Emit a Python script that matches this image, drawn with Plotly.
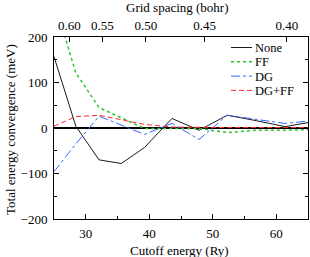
import math
import plotly.graph_objects as go

# Data
cutoff_ry = [25.0, 28.44, 32.09, 35.6, 39.24, 43.58, 47.85, 52.28, 56.9, 61.4, 66.3]
none_mev = [157, 4, -70, -78, -43, 21, -5, 28, 16, 3, 15]
ff_mev = [280, 121, 45, 22, -1, -1, -1, -10, -5, -5, -3]
dg_mev = [-96, -35, 26, 6, -14, 10, -25, 28, 19, 10, 17]
dgff_mev = [4, 25, 28, 18, 8, 2, 1, 1, 1, 1, 1]

grid_spacing_labels = ["0.60", "0.55", "0.50", "0.45", "0.40"]
grid_spacing_vals = [0.60, 0.55, 0.50, 0.45, 0.40]
grid_spacing_pos = [(math.pi / h) ** 2 for h in grid_spacing_vals]

series_names = ["None", "FF", "DG", "DG+FF"]
series_vals = [none_mev, ff_mev, dg_mev, dgff_mev]
colors = ["#1a1a1a", "#2ec42e", "#3366ff", "#ff2a2a"]
dashes = ["solid", "dot", "dashdot", "5px,3px"]
widths = [1.0, 1.5, 1.0, 1.0]

FONT = "Liberation Serif, Times New Roman, Times, serif"
L, R, T, B = 54, 2, 37, 38
W, H = 310, 257
PW, PH = W - L - R, H - T - B

def px2paper_x(px):
    return (px - L) / PW

def px2paper_y(py):
    return (H - B - py) / PH

fig = go.Figure()
for name, vals, c, d, w in zip(series_names, series_vals, colors, dashes, widths):
    fig.add_trace(go.Scatter(x=cutoff_ry, y=vals, mode="lines", name=name,
                             line=dict(color=c, dash=d, width=w), showlegend=False))

# invisible trace to hold the top axis
fig.add_trace(go.Scatter(x=grid_spacing_pos, y=[0] * len(grid_spacing_pos), xaxis="x2",
                         mode="markers", marker=dict(opacity=0), showlegend=False,
                         hoverinfo="skip"))

# manual legend
rows_y = [47.5, 61.8, 76.1, 90.4]
for name, c, d, w, ry in zip(series_names, colors, dashes, widths, rows_y):
    fig.add_shape(type="line", xref="paper", yref="paper",
                  x0=px2paper_x(231), x1=px2paper_x(252),
                  y0=px2paper_y(ry), y1=px2paper_y(ry),
                  line=dict(color=c, dash=d, width=w))
    fig.add_annotation(text=name, xref="paper", yref="paper",
                       x=px2paper_x(254), y=px2paper_y(ry), xanchor="left", yanchor="middle",
                       height=13, valign="middle", borderpad=0,
                       showarrow=False, font=dict(family=FONT, size=12.5, color="black"))

# titles
fig.add_annotation(text="Grid spacing (bohr)", xref="paper", yref="paper",
                   x=px2paper_x(177), y=px2paper_y(8), xanchor="center", yanchor="middle",
                   showarrow=False, font=dict(family=FONT, size=13, color="black"))
fig.add_annotation(text="Cutoff energy (Ry)", xref="paper", yref="paper",
                   x=px2paper_x(179), y=px2paper_y(250), xanchor="center", yanchor="middle",
                   showarrow=False, font=dict(family=FONT, size=13, color="black"))
fig.add_annotation(text="Total energy convergence (meV)", xref="paper", yref="paper",
                   x=px2paper_x(10), y=px2paper_y(130), xanchor="center", yanchor="middle",
                   textangle=-90,
                   showarrow=False, font=dict(family=FONT, size=13, color="black"))

fig.update_layout(
    width=W, height=H,
    margin=dict(l=L, r=R, t=T, b=B, pad=0),
    paper_bgcolor="white", plot_bgcolor="white",
    font=dict(family=FONT, size=13, color="black"),
    xaxis=dict(range=[25, 65], tickvals=[30, 40, 50, 60], ticks="inside", ticklen=5,
               tickwidth=1, tickcolor="black",
               minor=dict(tickvals=[35, 45, 55], ticks="inside", ticklen=3, tickcolor="black"),
               showline=True, linecolor="black", linewidth=1, mirror=True,
               showgrid=False, zeroline=False, ticklabelstandoff=2),
    xaxis2=dict(range=[25, 65], overlaying="x", side="top", anchor="y",
                tickvals=grid_spacing_pos, ticktext=grid_spacing_labels,
                ticks="inside", ticklen=5, tickcolor="black",
                showline=False, showgrid=False, zeroline=False, ticklabelstandoff=3),
    yaxis=dict(range=[-200, 200], tickvals=[-200, -100, 0, 100, 200], ticks="inside",
               ticklen=5, tickcolor="black",
               minor=dict(tickvals=[-150, -50, 50, 150], ticks="inside", ticklen=3,
                          tickcolor="black"),
               showline=True, linecolor="black", linewidth=1, mirror="ticks",
               showgrid=False, zeroline=True, zerolinecolor="black", zerolinewidth=1.5,
               ticklabelstandoff=3),
)

fig.write_html("out.html", config={"displayModeBar": False},
               post_script="document.body.style.margin='0';document.body.style.overflow='hidden';")
